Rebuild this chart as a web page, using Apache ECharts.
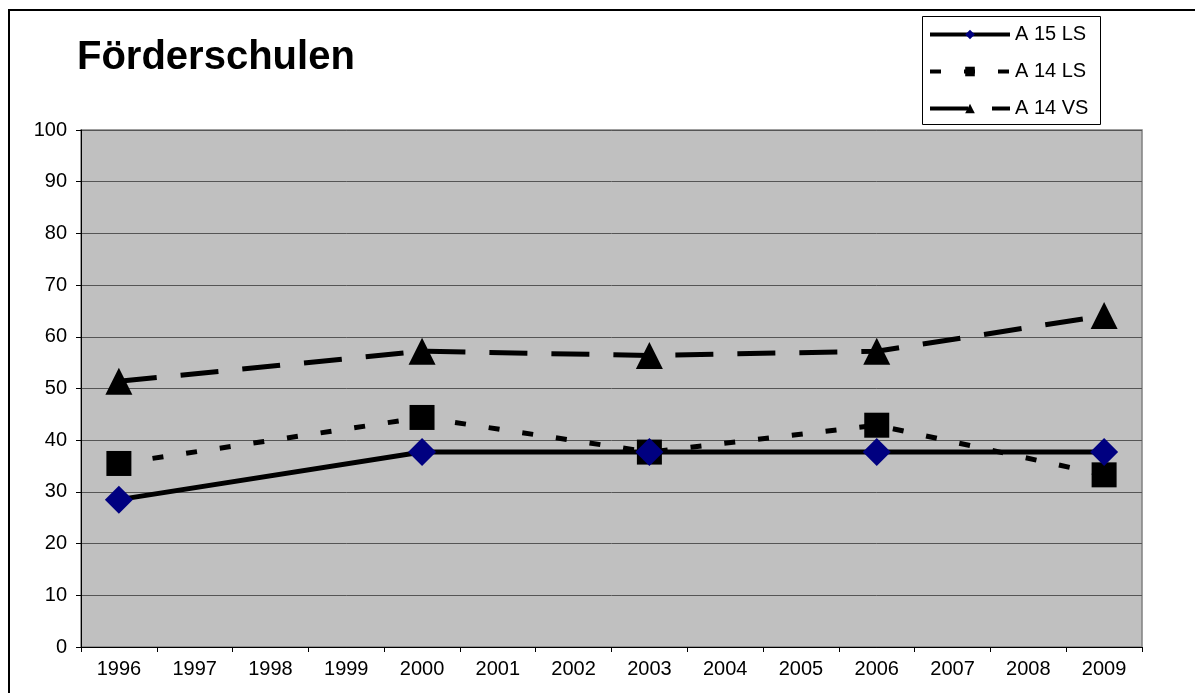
<!DOCTYPE html>
<html>
<head>
<meta charset="utf-8">
<script src="https://cdn.jsdelivr.net/npm/echarts@6/dist/echarts.min.js"></script>
<style>
html,body{margin:0;padding:0;background:#fff;}
#chart{width:1195px;height:693px;}
</style>
</head>
<body>
<div id="chart"></div>
<script>
const titleText = 'Förderschulen';
const years = ['1996','1997','1998','1999','2000','2001','2002','2003','2004','2005','2006','2007','2008','2009'];
const seriesNames = ['A 15 LS','A 14 LS','A 14 VS'];
const a15LS = [28.5,null,null,null,37.7,null,null,37.7,null,null,37.7,null,null,37.7];
const a14LS = [35.5,null,null,null,44.4,null,null,37.7,null,null,42.9,null,null,33.3];
const a14VS = [51.4,null,null,null,57.2,null,null,56.4,null,null,57.2,null,null,64.1];
const yTicks = [0,10,20,30,40,50,60,70,80,90,100];

const FONT = '"Liberation Sans", Arial, sans-serif';
const chart = echarts.init(document.getElementById('chart'), null, {renderer:'canvas'});

chart.setOption({
  animation:false,
  backgroundColor:'#ffffff',
  graphic:[
    {type:'polyline', z:1, shape:{points:[[9,700],[9,10],[1200,10]]}, style:{stroke:'#000', lineWidth:2, fill:null}},
    {type:'rect', z:3, shape:{x:922.5,y:16.5,width:178,height:108}, style:{fill:'#fff', stroke:'#000', lineWidth:1}},
    {type:'text', z:5, left:77, top:38, style:{text:titleText, font:'bold 40px '+FONT, fill:'#000'}}
  ],
  legend:{
    orient:'vertical', left:928, top:23, z:10,
    itemWidth:80, itemHeight:12, itemGap:14, padding:0,
    lineStyle:{width:4},
    textStyle:{fontFamily:FONT, fontSize:20, color:'#000', padding:[0,0,0,0], lineHeight:23},
    data:seriesNames
  },
  grid:{left:81, right:53, top:130, bottom:46, show:true, backgroundColor:'#c0c0c0', borderColor:'#808080', borderWidth:1.5},
  xAxis:{
    type:'category', data:years, boundaryGap:true,
    axisLine:{lineStyle:{color:'#000', width:1}},
    axisTick:{show:true, length:5, inside:false, lineStyle:{color:'#000'}},
    axisLabel:{fontFamily:FONT, fontSize:20, color:'#000', margin:12},
    splitLine:{show:false}
  },
  yAxis:{
    type:'value', min:yTicks[0], max:yTicks[yTicks.length-1], interval:10,
    axisLine:{show:true, lineStyle:{color:'#000', width:1}},
    axisTick:{show:true, length:5, lineStyle:{color:'#000'}},
    axisLabel:{fontFamily:FONT, fontSize:20, color:'#000', margin:14},
    splitLine:{show:true, lineStyle:{color:'#555555', width:1}}
  },
  series:[
    {name:seriesNames[0], type:'line', data:a15LS, connectNulls:true, z:4,
     symbol:'diamond', symbolSize:28, showAllSymbol:true,
     itemStyle:{color:'#000080', borderWidth:0},
     lineStyle:{color:'#000', width:5, type:'solid'}},
    {name:seriesNames[1], type:'line', data:a14LS, connectNulls:true, z:3,
     symbol:'rect', symbolSize:25, showAllSymbol:true,
     itemStyle:{color:'#000', borderWidth:0},
     lineStyle:{color:'#000', width:5, type:[11,23]}},
    {name:seriesNames[2], type:'line', data:a14VS, connectNulls:true, z:3,
     symbol:'triangle', symbolSize:27, showAllSymbol:true,
     itemStyle:{color:'#000', borderWidth:0},
     lineStyle:{color:'#000', width:5, type:[38,24]}}
  ]
});
</script>
</body>
</html>
